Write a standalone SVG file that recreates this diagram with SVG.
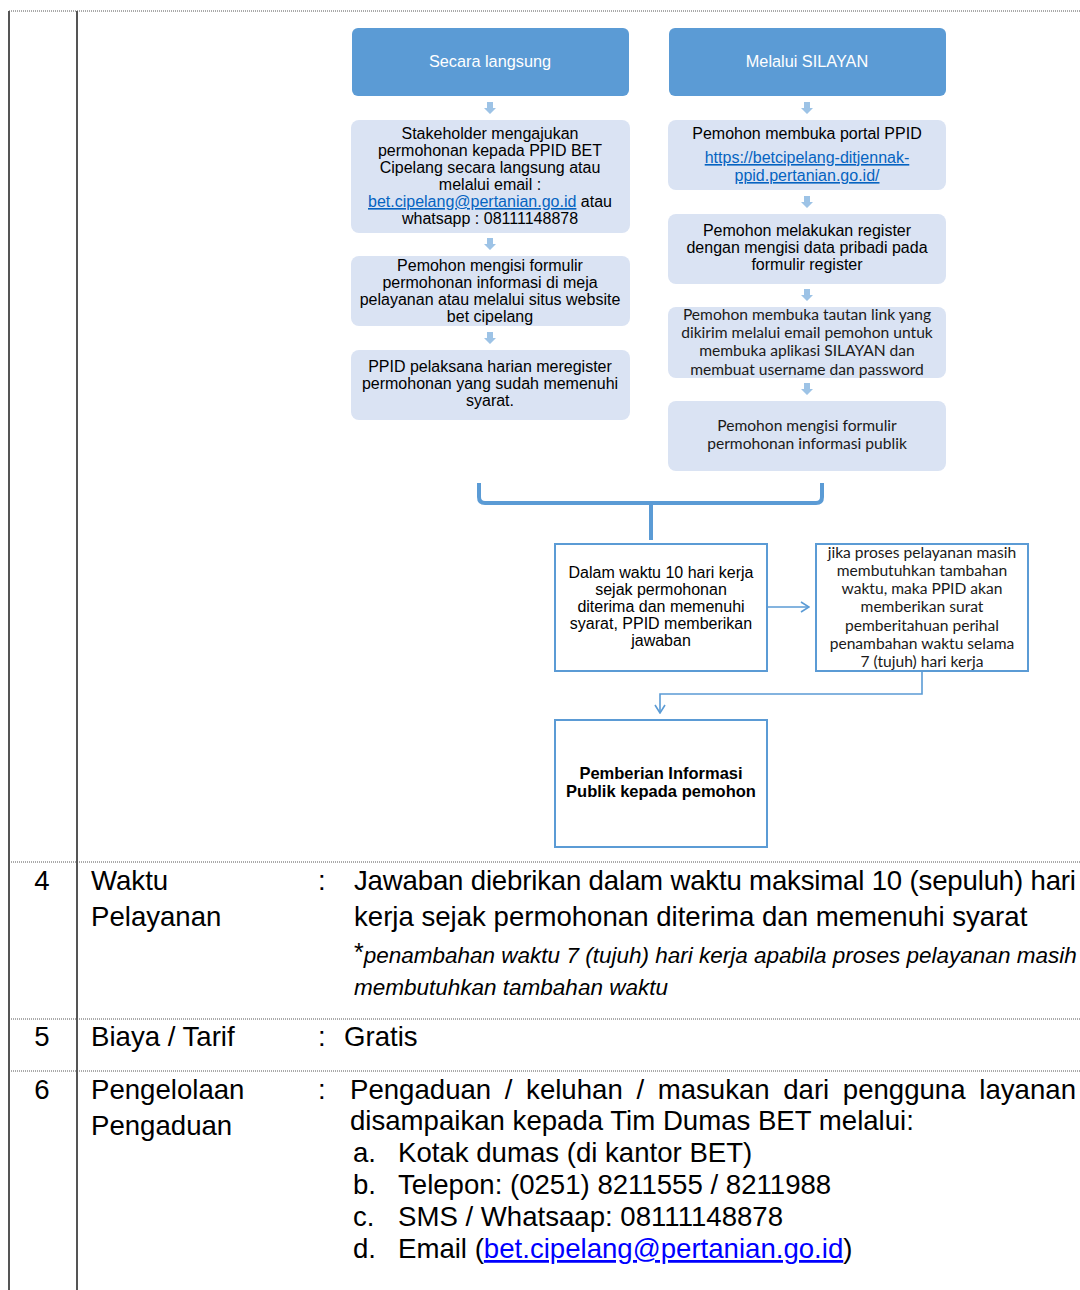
<svg xmlns="http://www.w3.org/2000/svg" width="1080" height="1290" viewBox="0 0 1080 1290">
<style>
.hdr{fill:#5b9bd5}
.lb{fill:#dae3f3}
.ob{fill:#ffffff;stroke:#5b9bd5;stroke-width:2}
.ht{font-family:"Liberation Sans",Arial,sans-serif;font-size:16.3px;fill:#ffffff;text-anchor:middle}
.t{font-family:"Liberation Sans",Arial,sans-serif;font-size:16px;fill:#000;text-anchor:middle}
.c{font-family:Lato,"Open Sans",sans-serif;font-size:15.6px;fill:#1a1a1a;text-anchor:middle}
.b{font-family:"Liberation Sans",Arial,sans-serif;font-size:16.5px;font-weight:bold;fill:#000;text-anchor:middle}
.lnk{fill:#0563c1;text-decoration:underline}
.tb{font-family:"Liberation Sans",Arial,sans-serif;font-size:27.6px;fill:#000}
.it{font-family:"Liberation Sans",Arial,sans-serif;font-size:22.5px;font-style:italic;fill:#000}
.tlink{fill:#0000ff;text-decoration:underline}
.dot{stroke:#555;stroke-width:1;stroke-dasharray:1 1;fill:none}
.vl{stroke:#555;stroke-width:2;fill:none}
.con{stroke:#5b9bd5;stroke-width:1.6;fill:none}
.small{fill:#9dc3e6}
</style>
<defs>
<marker id="open" viewBox="0 0 10 12" refX="9" refY="6" markerWidth="10" markerHeight="12" markerUnits="userSpaceOnUse" orient="auto">
<path d="M1,1 L9,6 L1,11" fill="none" stroke="#5b9bd5" stroke-width="1.6"/>
</marker>
<path id="da" d="M-3,0 H3 V6 H6 L0,12 L-6,6 H-3 Z"/>
</defs>

<g id="table">
<line class="dot" x1="9" y1="11" x2="1080" y2="11"/>
<line class="dot" x1="9" y1="862" x2="1080" y2="862"/>
<line class="dot" x1="9" y1="1019" x2="1080" y2="1019"/>
<line class="dot" x1="9" y1="1071" x2="1080" y2="1071"/>
<line class="vl" x1="9" y1="11" x2="9" y2="1290"/>
<line class="vl" x1="77" y1="11" x2="77" y2="1290"/>
</g>

<g id="connectors">
<g class="small">
<use href="#da" x="490" y="102"/>
<use href="#da" x="490" y="238"/>
<use href="#da" x="490" y="332"/>
<use href="#da" x="807" y="102"/>
<use href="#da" x="807" y="196"/>
<use href="#da" x="807" y="289"/>
<use href="#da" x="807" y="383"/>
</g>
<path d="M479,483 V497 Q479,503 485,503 H816 Q822,503 822,497 V483" fill="none" stroke="#5b9bd5" stroke-width="4"/>
<path d="M651,503 V540" fill="none" stroke="#5b9bd5" stroke-width="4"/>
<line class="con" x1="768" y1="607" x2="809" y2="607" marker-end="url(#open)"/>
<polyline class="con" points="922,671 922,694 660,694 660,713" marker-end="url(#open)"/>
</g>

<g id="hdr-langsung">
<rect class="hdr" x="352" y="28" width="277" height="68" rx="6"/>
<text class="ht" x="490" y="67">Secara langsung</text>
</g>
<g id="hdr-silayan">
<rect class="hdr" x="669" y="28" width="277" height="68" rx="6"/>
<text class="ht" x="807" y="67">Melalui SILAYAN</text>
</g>

<g id="l1">
<rect class="lb" x="351" y="120" width="279" height="113" rx="8"/>
<text class="t" x="490" y="139">Stakeholder mengajukan</text>
<text class="t" x="490" y="156">permohonan  kepada PPID BET</text>
<text class="t" x="490" y="173">Cipelang secara langsung  atau</text>
<text class="t" x="490" y="190">melalui  email :</text>
<text class="t" x="490" y="207"><tspan class="lnk">bet.cipelang@pertanian.go.id</tspan> atau</text>
<text class="t" x="490" y="224">whatsapp : 08111148878</text>
</g>
<g id="l2">
<rect class="lb" x="351" y="256" width="279" height="70" rx="8"/>
<text class="t" x="490" y="271">Pemohon mengisi formulir</text>
<text class="t" x="490" y="288">permohonan  informasi di meja</text>
<text class="t" x="490" y="305">pelayanan atau melalui  situs website</text>
<text class="t" x="490" y="322">bet cipelang</text>
</g>
<g id="l3">
<rect class="lb" x="351" y="350" width="279" height="70" rx="8"/>
<text class="t" x="490" y="372">PPID pelaksana harian meregister</text>
<text class="t" x="490" y="389">permohonan  yang sudah memenuhi</text>
<text class="t" x="490" y="406">syarat.</text>
</g>

<g id="r1">
<rect class="lb" x="668" y="120" width="278" height="70" rx="8"/>
<text class="t" x="807" y="139">Pemohon membuka  portal PPID</text>
<text class="t lnk" x="807" y="163">https://betcipelang-ditjennak-</text>
<text class="t lnk" x="807" y="181">ppid.pertanian.go.id/</text>
</g>
<g id="r2">
<rect class="lb" x="668" y="214" width="278" height="70" rx="8"/>
<text class="t" x="807" y="236">Pemohon melakukan  register</text>
<text class="t" x="807" y="253">dengan mengisi data pribadi pada</text>
<text class="t" x="807" y="270">formulir register</text>
</g>
<g id="r3">
<rect class="lb" x="668" y="307" width="278" height="71" rx="8"/>
<text class="c" x="807" y="320">Pemohon membuka tautan link yang</text>
<text class="c" x="807" y="338">dikirim melalui email pemohon untuk</text>
<text class="c" x="807" y="356">membuka aplikasi SILAYAN dan</text>
<text class="c" x="807" y="375">membuat username  dan password</text>
</g>
<g id="r4">
<rect class="lb" x="668" y="401" width="278" height="70" rx="8"/>
<text class="c" x="807" y="431">Pemohon mengisi formulir</text>
<text class="c" x="807" y="449">permohonan informasi publik</text>
</g>

<g id="jawaban">
<rect class="ob" x="555" y="544" width="212" height="127"/>
<text class="t" x="661" y="578">Dalam waktu 10 hari kerja</text>
<text class="t" x="661" y="595">sejak permohonan</text>
<text class="t" x="661" y="612">diterima dan memenuhi</text>
<text class="t" x="661" y="629">syarat, PPID memberikan</text>
<text class="t" x="661" y="646">jawaban</text>
</g>
<g id="tambahan">
<rect class="ob" x="816" y="544" width="212" height="127"/>
<text class="c" x="922" y="558">jika proses pelayanan masih</text>
<text class="c" x="922" y="576">membutuhkan tambahan</text>
<text class="c" x="922" y="594">waktu, maka PPID akan</text>
<text class="c" x="922" y="612">memberikan surat</text>
<text class="c" x="922" y="631">pemberitahuan perihal</text>
<text class="c" x="922" y="649">penambahan waktu selama</text>
<text class="c" x="922" y="667">7 (tujuh) hari kerja</text>
</g>
<g id="pemberian">
<rect class="ob" x="555" y="720" width="212" height="127"/>
<text class="b" x="661" y="779">Pemberian Informasi</text>
<text class="b" x="661" y="797">Publik kepada pemohon</text>
</g>

<g id="row4">
<text class="tb" x="42" y="890" text-anchor="middle">4</text>
<text class="tb" x="91" y="890">Waktu</text>
<text class="tb" x="91" y="926">Pelayanan</text>
<text class="tb" x="318" y="890">:</text>
<text class="tb" x="354" y="890" textLength="722" lengthAdjust="spacing">Jawaban diebrikan dalam waktu maksimal 10 (sepuluh) hari</text>
<text class="tb" x="354" y="926">kerja sejak permohonan diterima dan memenuhi syarat</text>
<text class="it" x="354" y="963"><tspan font-style="normal" font-size="25" dy="-2">*</tspan><tspan dy="2">penambahan waktu 7 (tujuh) hari kerja apabila proses pelayanan masih</tspan></text>
<text class="it" x="354" y="995">membutuhkan tambahan waktu</text>
</g>
<g id="row5">
<text class="tb" x="42" y="1046" text-anchor="middle">5</text>
<text class="tb" x="91" y="1046">Biaya / Tarif</text>
<text class="tb" x="318" y="1046">:</text>
<text class="tb" x="344" y="1046">Gratis</text>
</g>
<g id="row6">
<text class="tb" x="42" y="1099" text-anchor="middle">6</text>
<text class="tb" x="91" y="1099">Pengelolaan</text>
<text class="tb" x="91" y="1135">Pengaduan</text>
<text class="tb" x="318" y="1099">:</text>
<text class="tb" y="1099"><tspan x="350">Pengaduan</tspan><tspan x="504.8">/</tspan><tspan x="526.1">keluhan</tspan><tspan x="636.4">/</tspan><tspan x="657.7">masukan</tspan><tspan x="783.2">dari</tspan><tspan x="842.8">pengguna</tspan></text>
<text class="tb" x="1076" y="1099" text-anchor="end">layanan</text>
<text class="tb" x="350" y="1130">disampaikan kepada Tim Dumas BET melalui:</text>
<text class="tb" x="353" y="1162">a.</text>
<text class="tb" x="398" y="1162">Kotak dumas (di kantor BET)</text>
<text class="tb" x="353" y="1194">b.</text>
<text class="tb" x="398" y="1194">Telepon: (0251) 8211555 / 8211988</text>
<text class="tb" x="353" y="1226">c.</text>
<text class="tb" x="398" y="1226">SMS / Whatsaap: 08111148878</text>
<text class="tb" x="353" y="1258">d.</text>
<text class="tb" x="398" y="1258">Email (<tspan class="tlink">bet.cipelang@pertanian.go.id</tspan>)</text>
</g>
</svg>
